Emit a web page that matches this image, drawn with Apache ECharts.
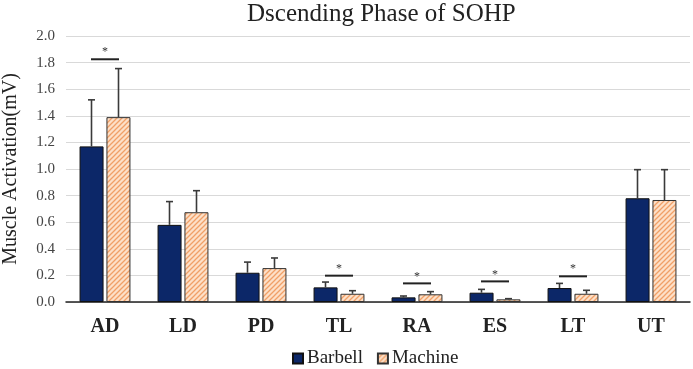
<!DOCTYPE html>
<html><head><meta charset="utf-8">
<script src="https://cdn.jsdelivr.net/npm/echarts@6/dist/echarts.min.js"></script>
<style>html,body{margin:0;padding:0;background:#fff}#c{width:693px;height:369px}</style>
</head><body><div id="c"></div>
<script>
const categories = ['AD','LD','PD','TL','RA','ES','LT','UT'];
const barbell = [1.17, 0.58, 0.22, 0.11, 0.035, 0.07, 0.105, 0.78];
const machine = [1.39, 0.675, 0.255, 0.062, 0.058, 0.02, 0.062, 0.767];
const barbellErrTop = [1.52, 0.755, 0.30, 0.15, 0.045, 0.095, 0.14, 0.995];
const machineErrTop = [1.755, 0.837, 0.331, 0.085, 0.078, 0.025, 0.088, 0.995];
const sigCategories = [0, 3, 4, 5, 6];
const sigLevels = [1.825, 0.198, 0.14, 0.155, 0.193];
const yTicks = [0, 0.2, 0.4, 0.6, 0.8, 1.0, 1.2, 1.4, 1.6, 1.8, 2.0];

const BAR_W = 24, HALF_OFF = 13.5;

function hatch(){
  const c = document.createElement('canvas');
  c.width = 5; c.height = 5;
  const g = c.getContext('2d');
  g.fillStyle = '#fde0c8'; g.fillRect(0,0,5,5);
  g.strokeStyle = '#f0a068'; g.lineWidth = 1.3;
  g.beginPath();
  g.moveTo(-1,6); g.lineTo(6,-1);
  g.moveTo(-1,1); g.lineTo(1,-1);
  g.moveTo(4,6); g.lineTo(6,4);
  g.stroke();
  return c;
}
const pattern = {image: hatch(), repeat: 'repeat'};

const errData = [];
categories.forEach((c,i)=>{
  errData.push([i, barbell[i], barbellErrTop[i], -1]);
  errData.push([i, machine[i], machineErrTop[i], 1]);
});
const sigData = sigCategories.map((c,k)=>[c, sigLevels[k]]);

const serif = '"Liberation Serif", "DejaVu Serif", serif';
const chart = echarts.init(document.getElementById('c'));
chart.setOption({
  animation: false,
  title: {text: 'Dscending Phase of SOHP', left: 242, top: -3,
    textStyle: {fontFamily: serif, fontSize: 25, fontWeight: 'normal', color: '#222'}},
  grid: {left: 66, right: 3, top: 36, bottom: 67, outerBoundsMode: 'none', containLabel: false},
  legend: {bottom: -4, left: 287, itemWidth: 10, itemHeight: 10, itemGap: 14, icon: 'rect',
    data: ['Barbell','Machine'],
    textStyle: {fontFamily: serif, fontSize: 19, color: '#222', padding: [0,0,0,-1]}},
  xAxis: {type: 'category', data: categories,
    axisLine: {lineStyle: {color: '#222', width: 1.5}},
    axisTick: {show: false},
    axisLabel: {fontFamily: serif, fontSize: 20, fontWeight: 'bold', color: '#222', margin: 15}},
  yAxis: {type: 'value', min: 0, max: 2, interval: 0.2,
    name: 'Muscle Activation(mV)', nameLocation: 'middle', nameGap: 45,
    nameTextStyle: {fontFamily: serif, fontSize: 20, color: '#222'},
    axisLine: {show: false}, axisTick: {show: false},
    splitLine: {lineStyle: {color: '#d9d9d9', width: 1.2}},
    axisLabel: {fontFamily: serif, fontSize: 15, color: '#444', margin: 11,
      formatter: v => v.toFixed(1)}},
  series: [
    {name: 'Barbell', type: 'bar', data: barbell, barWidth: BAR_W, barGap: '12%',
      itemStyle: {color: '#0c2768', borderColor: '#111', borderWidth: 1}},
    {name: 'Machine', type: 'bar', data: machine, barWidth: BAR_W,
      itemStyle: {color: pattern, borderColor: '#333', borderWidth: 1}},
    {type: 'custom', data: errData, z: 5, silent: true,
      renderItem: function(params, api){
        const x = api.coord([api.value(0), 0])[0] + api.value(3)*HALF_OFF;
        const yb = api.coord([0, api.value(1)])[1];
        const yt = api.coord([0, api.value(2)])[1];
        const st = {stroke: '#3a3a3a', lineWidth: 1.6};
        return {type: 'group', children: [
          {type: 'line', shape: {x1: x, y1: yb, x2: x, y2: yt}, style: st},
          {type: 'line', shape: {x1: x-3.5, y1: yt, x2: x+3.5, y2: yt}, style: st}
        ]};
      }},
    {type: 'custom', data: sigData, z: 5, silent: true,
      renderItem: function(params, api){
        const cx = api.coord([api.value(0), 0])[0];
        const y = api.coord([0, api.value(1)])[1];
        return {type: 'group', children: [
          {type: 'line', shape: {x1: cx-14, y1: y, x2: cx+14, y2: y}, style: {stroke: '#222', lineWidth: 2}},
          {type: 'text', style: {text: '*', x: cx, y: y-1, align: 'center', verticalAlign: 'bottom',
            font: '12px ' + serif, fill: '#333'}}
        ]};
      }}
  ]
});
</script></body></html>
